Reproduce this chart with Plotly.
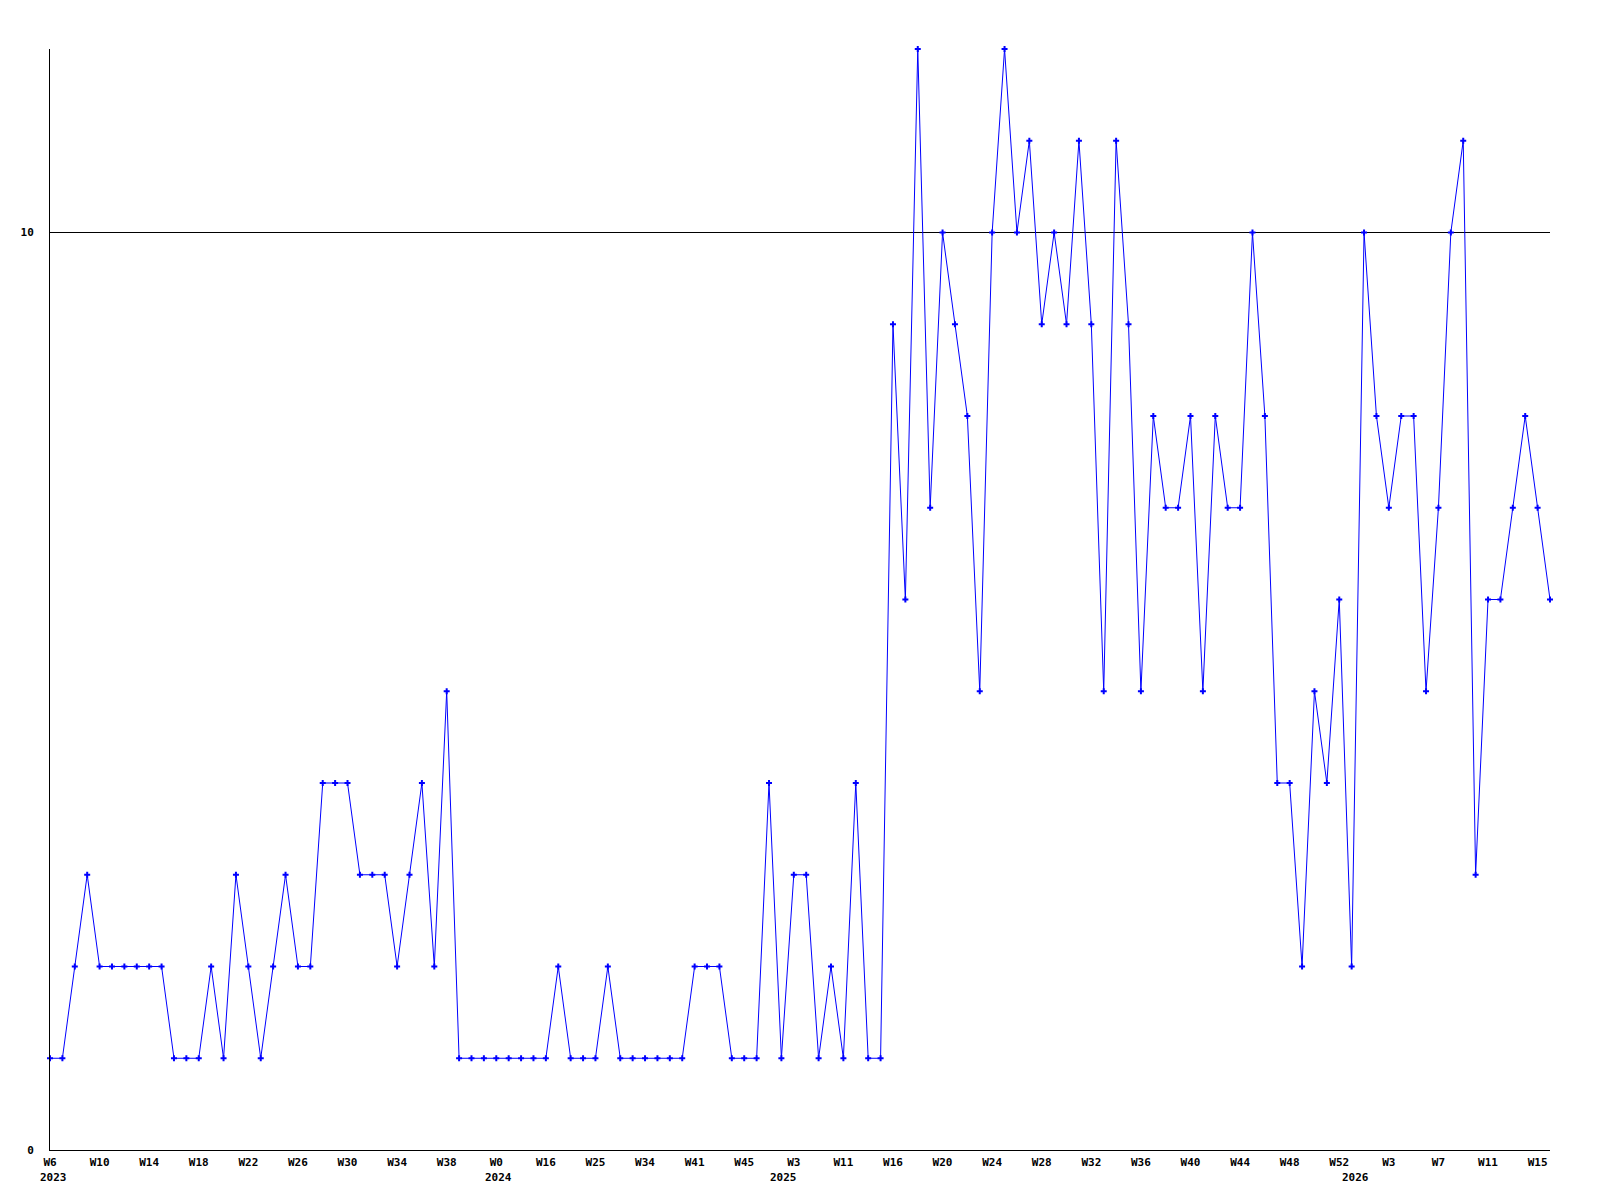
import plotly.graph_objects as go

values = [1, 1, 2, 3, 2, 2, 2, 2, 2, 2, 1, 1, 1, 2, 1, 3, 2, 1, 2, 3,
          2, 2, 4, 4, 4, 3, 3, 3, 2, 3, 4, 2, 5, 1, 1, 1, 1, 1, 1, 1,
          1, 2, 1, 1, 1, 2, 1, 1, 1, 1, 1, 1, 2, 2, 2, 1, 1, 1, 4, 1,
          3, 3, 1, 2, 1, 4, 1, 1, 9, 6, 12, 7, 10, 9, 8, 5, 10, 12, 10, 11,
          9, 10, 9, 11, 9, 5, 11, 9, 5, 8, 7, 7, 8, 5, 8, 7, 7, 10, 8, 4,
          4, 2, 5, 4, 6, 2, 10, 8, 7, 8, 8, 5, 7, 10, 11, 3, 6, 6, 7, 8,
          7, 6]
x_index = list(range(len(values)))

tick_labels = ["W6", "W10", "W14", "W18", "W22", "W26", "W30", "W34", "W38", "W0",
               "W16", "W25", "W34", "W41", "W45", "W3", "W11", "W16", "W20", "W24",
               "W28", "W32", "W36", "W40", "W44", "W48", "W52", "W3", "W7", "W11", "W15"]
tick_positions = [4 * i for i in range(len(tick_labels))]

year_labels = ["2023", "2024", "2025", "2026"]
year_positions = [0.25, 36.2, 59.2, 105.3]

y_ticks = [0, 10]

FONT = dict(family="DejaVu Sans Mono", size=11, color="black", weight="bold")

fig = go.Figure()
fig.add_trace(go.Scatter(
    x=x_index, y=values, mode="lines+markers",
    line=dict(color="#0000FF", width=1),
    marker=dict(color="#0000FF", size=5, symbol="cross"),
    cliponaxis=False,
    hoverinfo="x+y",
))

for lab, pos in zip(year_labels, year_positions):
    fig.add_annotation(x=pos, y=0, xref="x", yref="paper", text=lab,
                       showarrow=False, yanchor="top", yshift=-19,
                       font=FONT)

fig.update_layout(
    width=1592, height=1192,
    autosize=False,
    paper_bgcolor="white", plot_bgcolor="white",
    margin=dict(l=42, r=50, t=41, b=50),
    showlegend=False,
    xaxis=dict(range=[0, len(values) - 1], tickmode="array",
               tickvals=tick_positions, ticktext=tick_labels,
               showgrid=False, zeroline=False, showline=True,
               linecolor="black", linewidth=1, ticks="",
               tickfont=FONT, ticklabelstandoff=2),
    yaxis=dict(range=[0, 12], tickmode="array", tickvals=y_ticks,
               ticktext=[str(v) for v in y_ticks],
               showgrid=True, gridcolor="black", gridwidth=1,
               zeroline=False, showline=True, linecolor="black",
               linewidth=1, ticks="", tickfont=FONT,
               ticklabelstandoff=13),
)

fig.write_html("out.html")
